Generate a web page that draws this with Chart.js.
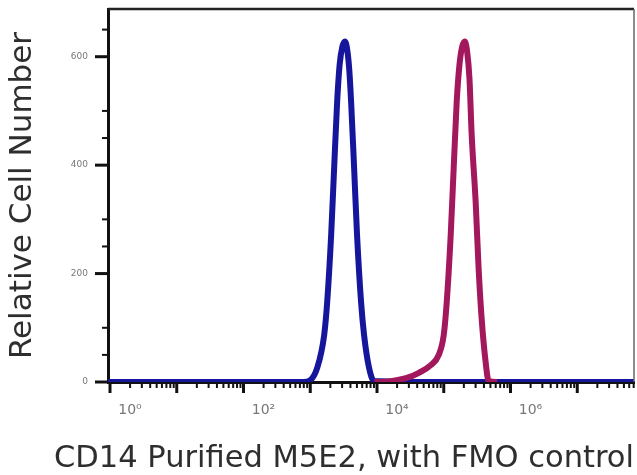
<!DOCTYPE html>
<html>
<head>
<meta charset="utf-8">
<script src="https://cdn.jsdelivr.net/npm/chart.js@4.4.1/dist/chart.umd.min.js"></script>
<style>
html,body{margin:0;padding:0;background:#fff;}
#wrap{width:637px;height:475px;position:relative;}
</style>
</head>
<body>
<div id="wrap"><canvas id="c"></canvas></div>
<script>
// x values are decade exponents (log10 of fluorescence), y values are cell counts
const blueX = [-0.03, 1.0, 2.0, 2.9, 2.985, 3.104, 3.209, 3.254, 3.313, 3.358, 3.403, 3.44, 3.48, 3.52, 3.555, 3.585, 3.612, 3.657, 3.701, 3.761, 3.806, 3.881, 3.955, 5.0, 7.85];
const blueY = [0, 0, 0, 0, 2, 26, 87, 148, 271, 395, 517, 585, 618, 628, 612, 575, 517, 395, 271, 148, 87, 26, 2, 0, 0];
const redX = [3.96, 4.03, 4.433, 4.627, 4.806, 4.925, 5.0, 5.045, 5.104, 5.149, 5.194, 5.235, 5.275, 5.315, 5.35, 5.385, 5.418, 5.478, 5.522, 5.567, 5.627, 5.672, 5.8];
const redY = [0, 0, 7, 17, 31, 50, 87, 148, 271, 395, 517, 585, 618, 628, 610, 560, 457, 332, 210, 118, 37, 2, 0];
const yTickValues = [0, 50, 100, 200, 250, 300, 400, 450, 500, 600, 650];
const yLabelValues = [0, 200, 400, 600];
const xDecades = [0, 1, 2, 3, 4, 5, 6, 7];
const xLabelDecades = [0, 2, 4, 6];
const xTitle = 'CD14 Purified M5E2, with FMO control';
const yTitle = 'Relative Cell Number';

const sup = {'0':'\u2070','1':'\u00b9','2':'\u00b2','3':'\u00b3','4':'\u2074','5':'\u2075','6':'\u2076','7':'\u2077','8':'\u2078','9':'\u2079'};
const toPts = (xs, ys) => xs.map((x, i) => ({x: x, y: ys[i]}));
const isInt = v => Math.abs(v - Math.round(v)) < 1e-9;

const tickMarks = {
  id: 'tickMarks',
  afterDraw(chart) {
    const ctx = chart.ctx, a = chart.chartArea;
    const xs = chart.scales.x, ys = chart.scales.y;
    ctx.save();
    ctx.strokeStyle = '#111';
    ctx.lineCap = 'butt';
    xs.ticks.forEach(t => {
      const px = xs.getPixelForValue(t.value);
      const major = isInt(t.value);
      ctx.lineWidth = major ? 3 : 2;
      ctx.beginPath();
      ctx.moveTo(px, a.bottom);
      ctx.lineTo(px, a.bottom + (major ? 11 : 6));
      ctx.stroke();
    });
    ys.ticks.forEach(t => {
      const py = ys.getPixelForValue(t.value);
      const major = yLabelValues.includes(t.value);
      ctx.lineWidth = major ? 3 : 2;
      ctx.beginPath();
      ctx.moveTo(a.left, py);
      ctx.lineTo(a.left - (major ? 13 : 6), py);
      ctx.stroke();
    });
    // frame top and right
    ctx.strokeStyle = '#222';
    ctx.lineWidth = 2.5;
    ctx.beginPath(); ctx.moveTo(a.left, a.top); ctx.lineTo(a.right, a.top); ctx.stroke();
    ctx.strokeStyle = '#666';
    ctx.lineWidth = 1.5;
    ctx.beginPath(); ctx.moveTo(a.right, a.top); ctx.lineTo(a.right, a.bottom); ctx.stroke();
    // x axis title (drawn without the chart-area width limit)
    ctx.fillStyle = '#2e2e2e';
    ctx.font = '30.5px "DejaVu Sans"';
    ctx.textAlign = 'right';
    ctx.textBaseline = 'alphabetic';
    ctx.fillText(xTitle, a.right, chart.height - 8);
    ctx.restore();
  }
};

new Chart(document.getElementById('c'), {
  type: 'line',
  data: {
    datasets: [
      {data: toPts(redX, redY), borderColor: '#a3175c', borderWidth: 6, pointRadius: 0, cubicInterpolationMode: 'monotone', clip: 0, fill: false},
      {data: toPts(blueX, blueY), borderColor: '#16169c', borderWidth: 6, pointRadius: 0, cubicInterpolationMode: 'monotone', clip: 0, fill: false}
    ]
  },
  options: {
    responsive: true,
    maintainAspectRatio: false,
    animation: false,
    layout: {padding: {top: 9, right: 3, left: 0, bottom: 0}},
    plugins: {legend: {display: false}, tooltip: {enabled: false}},
    scales: {
      x: {
        type: 'linear',
        min: -0.03,
        max: 7.85,
        afterBuildTicks(scale) {
          const t = [];
          xDecades.forEach(k => {
            t.push({value: k});
            for (let m = 2; m <= 9; m++) {
              const v = k + Math.log10(m);
              if (v <= 7.85) t.push({value: v});
            }
          });
          scale.ticks = t;
        },
        afterFit(scale) { scale.height = 93; scale.paddingLeft = 0; scale.paddingRight = 0; },
        grid: {display: true, drawOnChartArea: false, drawTicks: false},
        border: {display: true, color: '#111', width: 3},
        ticks: {
          autoSkip: false,
          maxRotation: 0,
          padding: 20,
          labelOffset: 20,
          color: '#777',
          font: {family: 'DejaVu Sans', size: 14},
          callback(v) {
            if (!isInt(v)) return '';
            const k = Math.round(v);
            if (!xLabelDecades.includes(k)) return '';
            return '10' + String(k).split('').map(c => sup[c]).join('');
          }
        },
        title: {display: false}
      },
      y: {
        type: 'linear',
        min: 0,
        max: 688,
        afterBuildTicks(scale) { scale.ticks = yTickValues.map(v => ({value: v})); },
        afterFit(scale) { scale.width = 108; scale.paddingTop = 0; scale.paddingBottom = 0; },
        grid: {display: true, drawOnChartArea: false, drawTicks: false},
        border: {display: true, color: '#111', width: 3},
        ticks: {
          autoSkip: false,
          padding: 20,
          color: '#777',
          font: {family: 'DejaVu Sans', size: 9},
          callback(v) { return yLabelValues.includes(v) ? String(v) : ''; }
        },
        title: {
          display: true,
          text: yTitle,
          color: '#2e2e2e',
          font: {family: 'DejaVu Sans', size: 31},
          padding: {top: 4, bottom: 0}
        }
      }
    }
  },
  plugins: [tickMarks]
});
</script>
</body>
</html>
